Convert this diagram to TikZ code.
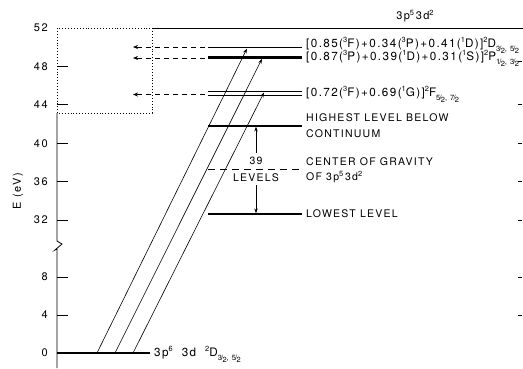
\documentclass[tikz,border=0pt]{standalone}
\usepackage{fontspec}
\setmainfont{TeX Gyre Heros}
\newfontfamily\lettering{TeX Gyre Heros}[LetterSpace=12]
\newfontfamily\digits{TeX Gyre Heros}[LetterSpace=15]
\usetikzlibrary{arrows.meta}
\newcommand\su[1]{\raisebox{0.8ex}{\fontsize{7.5}{8}\selectfont #1}}
\newcommand\fr[2]{\raisebox{0.15ex}{#1}\kern-0.1em/\kern-0.1em\raisebox{-0.35ex}{#2}}
\newcommand\sbs[1]{\raisebox{-0.75ex}{\fontsize{7.5}{8}\selectfont #1}}
\begin{document}
\begin{tikzpicture}[x=1pt,y=-1pt,
  lev/.style={line width=1.1pt},
  heavy/.style={line width=3pt},
  ax/.style={line width=0.8pt},
  tk/.style={line width=0.7pt},
  tr/.style={line width=0.6pt,-{Stealth[length=5pt,width=3.4pt]}},
  darr/.style={line width=0.7pt,dash pattern=on 5pt off 4pt,-{Stealth[length=5pt,width=4pt]}},
  vlab/.style={anchor=west,inner sep=0pt,font=\fontsize{10.5}{12}\lettering},
  flab/.style={anchor=west,inner sep=0pt,font=\fontsize{11.7}{12}\lettering},
  num/.style={anchor=east,inner sep=0pt,font=\fontsize{11}{12}\digits}]
\useasboundingbox (0,0) rectangle (523,368);
% frame / axis
\draw[ax] (152,28) -- (523,28);
\draw[dotted,line width=0.9pt] (57,28) rectangle (152,113);
\draw[ax] (57,113) -- (57,241) -- (62,244) -- (55,250) -- (57,249) -- (57,368);
% ticks left
\foreach \yy in {66.4,104.8,143.2,181.6,220,277,315}
  \draw[tk] (57,\yy) -- (68,\yy);
% ticks right
\foreach \yy in {61,104.8,143.2,181.6,220,277,315}
  \draw[tk] (518,\yy) -- (522,\yy);
% numbers
\node[num] (n52) at (48,28) {52};
\node[num] (n48) at (48,66.4) {48};
\node[num] (n44) at (48,104.8) {44};
\node[num] (n40) at (48,143.2) {40};
\node[num] (n36) at (48,181.6) {36};
\node[num] (n32) at (48,220) {32};
\node[num] (n8) at (48,277) {8};
\node[num] (n4) at (48,315) {4};
\node[num] (n0) at (48,353) {0};
\node[rotate=90,inner sep=0pt,font=\fontsize{11}{12}\digits] (elab) at (18,191) {E (eV)};
% levels
\draw[lev] (208,47.3) coordinate (a1) -- (302,47.3);
\draw[heavy] (208,57) coordinate (a2) -- (302,57);
\draw[lev] (208,91.5) -- (302,91.5);
\draw[lev] (208,95.5) coordinate (a3) -- (302,95.5);
\draw[lev] (208,126) -- (302,126);
\draw[lev,dash pattern=on 7pt off 5pt] (208,169.3) -- (302,169.3);
\draw[lev] (208,214) -- (302,214);
\draw[line width=2pt] (57,353) -- (150,353);
% dashed arrows into box
\coordinate (b1) at (133,47);
\coordinate (b2) at (133,58);
\coordinate (b3) at (133,94.5);
\draw[darr] (205,47) -- (b1);
\draw[darr] (205,58) -- (b2);
\draw[darr] (205,94.5) -- (b3);
% transitions
\coordinate (g1) at (97,353);
\coordinate (g2) at (115,353);
\coordinate (g3) at (133,353);
\coordinate (t1) at (247,48.5);
\coordinate (t2) at (262,58.8);
\coordinate (t3) at (264,92.5);
\draw[tr] (g1) -- (t1);
\draw[tr] (g2) -- (t2);
\draw[tr] (g3) -- (t3);
% 39 levels
\node[inner sep=0pt,font=\fontsize{10.5}{12}\lettering] (n39) at (256,161) {39};
\node[inner sep=0pt,font=\fontsize{10.5}{12}\lettering] (nlev) at (256,177.5) {LEVELS};
\coordinate (hi) at (256,126.6);
\coordinate (lo) at (256,213.4);
\draw[tr] (256,153) -- (hi);
\draw[tr] (256,185) -- (lo);
% labels
\node[inner sep=0pt,font=\fontsize{11}{12}\lettering] (title) at (415,16) {3p\su{5}\,3d\su{2}};
\node[flab] (l1) at (306,45) {[0.85(\su{3}F)+0.34(\su{3}P)+0.41(\su{1}D)]\su{2}D\sbs{\fr{3}{2}, \fr{5}{2}}};
\node[flab] (l2) at (306,58) {[0.87(\su{3}P)+0.39(\su{1}D)+0.31(\su{1}S)]\su{2}P\sbs{\fr{1}{2}, \fr{3}{2}}};
\node[flab] (l3) at (306,94) {[0.72(\su{3}F)+0.69(\su{1}G)]\su{2}F\sbs{\fr{5}{2}, \fr{7}{2}}};
\node[vlab] (l4) at (306,118) {HIGHEST LEVEL BELOW};
\node[vlab] (l4b) at (306,134) {CONTINUUM};
\node[vlab] (l5) at (306,162) {CENTER OF GRAVITY};
\node[vlab] (l5b) at (306,177) {OF 3p\su{5}\,3d\su{2}};
\node[vlab] (l6) at (306,214) {LOWEST LEVEL};
\node[flab] (gl) at (154,354) {3p\su{6}\hspace{9pt}3d\hspace{9pt}\su{2}D\sbs{\fr{3}{2}, \fr{5}{2}}};
\end{tikzpicture}
\end{document}
